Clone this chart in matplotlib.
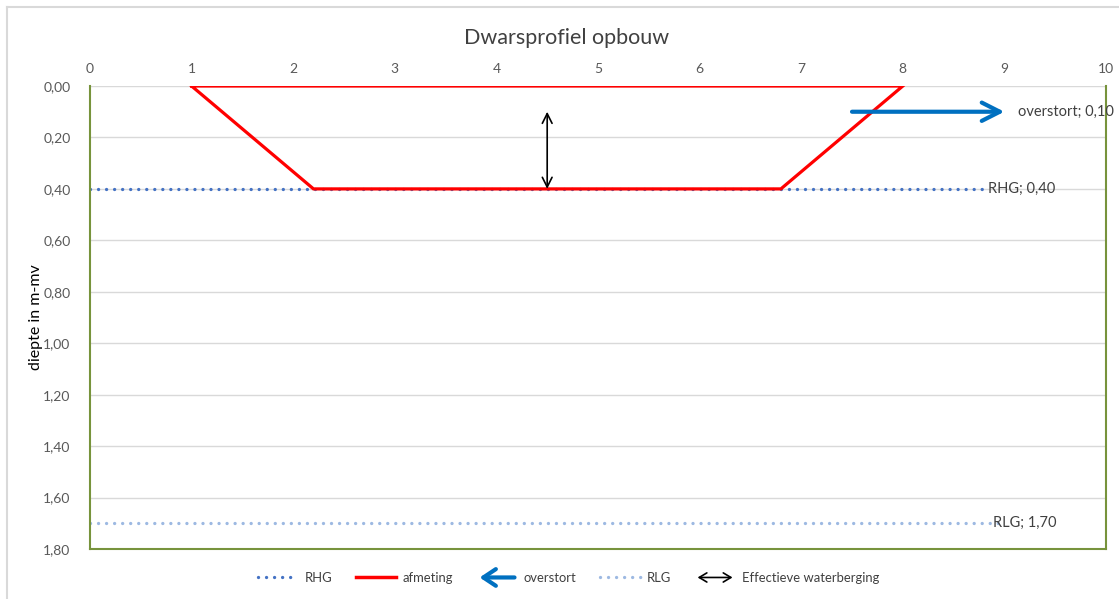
import numpy as np
import matplotlib
matplotlib.use('Agg')
import matplotlib.pyplot as plt
from matplotlib.patches import FancyArrowPatch
from matplotlib.lines import Line2D
from matplotlib.legend_handler import HandlerPatch
from matplotlib.ticker import FuncFormatter

plt.rcParams['font.family'] = ['Lato', 'DejaVu Sans']

# profiel (x in m, diepte in m-mv)
afmeting_x = [1, 2.2, 6.8, 8, 1]
afmeting_y = [0.0, 0.40, 0.40, 0.0, 0.0]

rhg_x = [0, 8.85]
rhg_y = [0.40, 0.40]
rlg_x = [0, 9]
rlg_y = [1.70, 1.70]

overstort_x = [7.5, 9]
overstort_y = [0.10, 0.10]

berging_x = 4.5
berging_y = [0.10, 0.40]

xticks = np.arange(0, 11, 1)
yticks = np.arange(0, 1.81, 0.2)

blauw = '#4472C4'
lichtblauw = '#9DB9E2'
rood = '#FF0000'
pijlblauw = '#0070C0'
groen = '#77933C'
grijs = '#595959'

stippel = (0, (0.01, 2.4))


class HandlerArrow(HandlerPatch):
    def create_artists(self, legend, orig_handle, xdescent, ydescent,
                       width, height, fontsize, trans):
        y = height / 2 - ydescent
        p = FancyArrowPatch((-xdescent + width, y), (-xdescent, y),
                            arrowstyle=orig_handle.get_arrowstyle(),
                            mutation_scale=orig_handle.get_mutation_scale(),
                            color=orig_handle.get_edgecolor(),
                            lw=orig_handle.get_linewidth())
        p.set_transform(trans)
        return [p]


fig = plt.figure(figsize=(11.19, 5.99), dpi=100)
ax = fig.add_axes([0.0804, 0.0835, 0.908, 0.7729])

# rand om de grafiek
fig.add_artist(Line2D([7 / 1119, 1.0], [1 - 7 / 599, 1 - 7 / 599],
                      transform=fig.transFigure, color='#D9D9D9', lw=1.5))
fig.add_artist(Line2D([7 / 1119, 7 / 1119], [0.0, 1 - 7 / 599],
                      transform=fig.transFigure, color='#D9D9D9', lw=1.5))

for y in yticks[:-1]:
    ax.axhline(y, color='#D9D9D9', lw=1, zorder=0)

ax.plot(rhg_x, rhg_y, color=blauw, lw=2.4, linestyle=stippel,
        dash_capstyle='round', zorder=2)
ax.plot(rlg_x, rlg_y, color=lichtblauw, lw=2.4, linestyle=stippel,
        dash_capstyle='round', zorder=2)
ax.plot(afmeting_x, afmeting_y, color=rood, lw=2.3, zorder=3,
        solid_joinstyle='miter')

ax.annotate('', xy=(overstort_x[1], overstort_y[1]),
            xytext=(overstort_x[0], overstort_y[0]),
            arrowprops=dict(arrowstyle='->,head_length=0.65,head_width=0.33',
                            color=pijlblauw, lw=3, mutation_scale=20,
                            shrinkA=0, shrinkB=0), zorder=4)
ax.annotate('', xy=(berging_x, berging_y[0]), xytext=(berging_x, berging_y[1]),
            arrowprops=dict(arrowstyle='<->,head_length=0.5,head_width=0.25',
                            color='black', lw=1.2, mutation_scale=14,
                            shrinkA=0, shrinkB=0), zorder=4)

ax.annotate('overstort; 0,10', xy=(overstort_x[1], overstort_y[1]),
            xytext=(10, 0), textcoords='offset points', va='center',
            ha='left', fontsize=10.5, color='#404040', zorder=5)
ax.annotate('RHG; 0,40', xy=(rhg_x[1], rhg_y[1]), xytext=(-1, 0),
            textcoords='offset points', va='center', ha='left',
            fontsize=10.5, color='#404040', zorder=5)
ax.annotate('RLG; 1,70', xy=(rlg_x[1], rlg_y[1]), xytext=(-8, 0),
            textcoords='offset points', va='center', ha='left',
            fontsize=10.5, color='#404040', zorder=5)

ax.set_xlim(0, 10)
ax.set_ylim(1.8, 0)
ax.set_xticks(xticks)
ax.set_yticks(yticks)
ax.xaxis.tick_top()
ax.yaxis.set_major_formatter(FuncFormatter(lambda v, p: f'{v:.2f}'.replace('.', ',')))
ax.tick_params(length=0, labelsize=10, labelcolor=grijs, pad=8)
ax.tick_params(axis='y', pad=14)

for side in ['left', 'right', 'bottom']:
    ax.spines[side].set_color(groen)
    ax.spines[side].set_linewidth(1.5)
ax.spines['top'].set_visible(False)

ax.set_ylabel('diepte in m-mv', fontsize=11.5, color='black', labelpad=0)
fig.text(0.506, 0.937, 'Dwarsprofiel opbouw', ha='center', va='center',
         fontsize=15.5, color='#404040')

handles = [
    Line2D([], [], color=blauw, lw=2.4, linestyle=stippel,
           dash_capstyle='round'),
    Line2D([], [], color=rood, lw=2.5),
    FancyArrowPatch((0, 0), (1, 0), arrowstyle='->,head_length=0.6,head_width=0.4',
                    mutation_scale=15, color=pijlblauw, lw=3),
    Line2D([], [], color=lichtblauw, lw=2.4, linestyle=stippel,
           dash_capstyle='round'),
    FancyArrowPatch((0, 0), (1, 0), arrowstyle='<->,head_length=0.5,head_width=0.3',
                    mutation_scale=11, color='black', lw=1.2),
]
labels = ['RHG', 'afmeting', 'overstort', 'RLG', 'Effectieve waterberging']
fig.legend(handles, labels, loc='center', bbox_to_anchor=(0.508, 0.035),
           ncol=5, frameon=False, fontsize=9.4, handlelength=3.1,
           handletextpad=0.5, columnspacing=1.8,
           handler_map={FancyArrowPatch: HandlerArrow()},
           labelcolor='#404040')

fig.savefig('out.png', dpi=100)
